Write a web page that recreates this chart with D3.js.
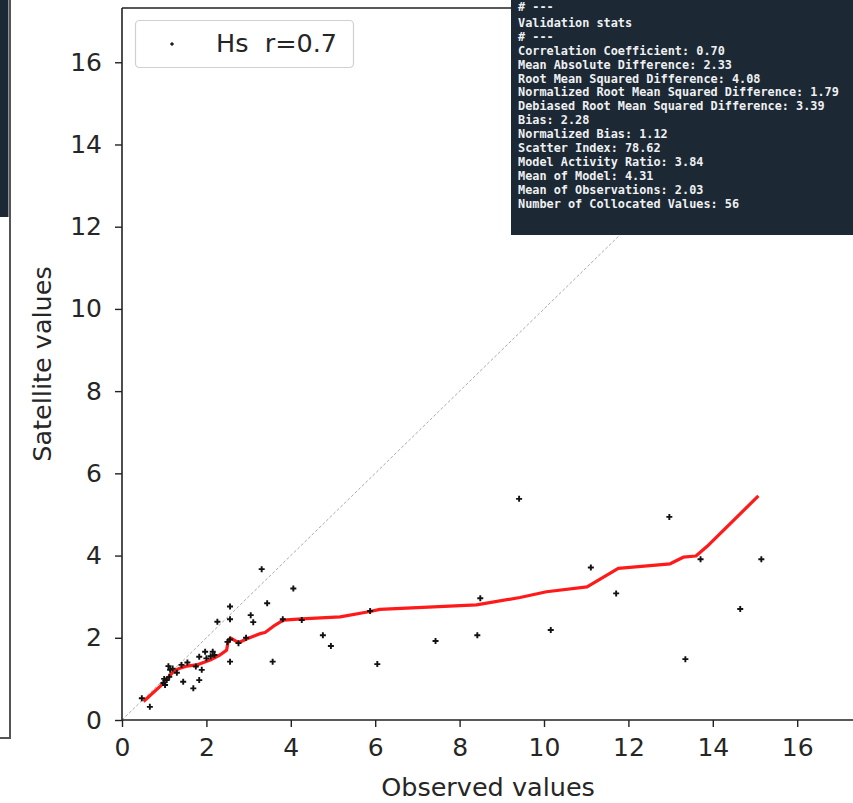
<!DOCTYPE html>
<html><head><meta charset="utf-8">
<script src="https://cdn.jsdelivr.net/npm/d3@7"></script>
<style>
html,body{margin:0;padding:0;background:#fff;}
svg{display:block;}
</style></head>
<body>
<svg id="c" width="853" height="803"></svg>
<script>
// ---- data ----
const obsValues = [0.47,0.66,1.10,1.14,1.06,1.02,1.12,0.98,1.20,1.30,1.41,1.45,1.55,1.69,1.75,1.83,1.89,1.83,1.97,2.00,2.10,2.15,2.19,2.26,2.50,2.56,2.56,2.56,2.56,2.76,2.94,3.05,3.11,3.31,3.44,3.57,3.81,4.06,4.26,4.76,4.95,5.88,6.05,7.43,8.42,8.49,9.41,10.16,11.11,11.71,12.97,13.35,13.71,14.65,15.15,1.00];
const satValues = [0.53,0.32,1.31,1.22,0.97,0.85,1.05,0.90,1.25,1.15,1.34,0.93,1.40,0.77,1.30,0.97,1.22,1.54,1.66,1.50,1.55,1.66,1.58,2.39,1.90,2.76,2.45,1.96,1.42,1.87,2.00,2.55,2.38,3.67,2.84,1.42,2.45,3.20,2.43,2.06,1.80,2.65,1.36,1.92,2.06,2.96,5.38,2.19,3.71,3.08,4.94,1.48,3.91,2.70,3.91,1.00];
const qqObs = [0.51,0.98,1.22,1.37,1.53,1.77,2.09,2.32,2.48,2.52,2.58,2.76,2.95,3.27,3.39,3.63,3.82,4.26,5.17,5.88,6.11,8.40,9.43,10.06,11.02,11.76,12.99,13.30,13.60,13.86,15.08];
const qqSat = [0.45,0.89,1.18,1.26,1.31,1.34,1.46,1.58,1.70,1.95,1.99,1.88,1.97,2.10,2.13,2.31,2.43,2.46,2.51,2.64,2.69,2.80,2.98,3.12,3.24,3.69,3.80,3.96,3.99,4.22,5.45];
const tickValues = [0,2,4,6,8,10,12,14,16];
const axisMax = 17.32;
const legendLabel = "Hs  r=0.7";
const xLabel = "Observed values";
const yLabel = "Satellite values";
const statsLines = [
 "# ---",
 "Validation stats",
 "# ---",
 "Correlation Coefficient: 0.70",
 "Mean Absolute Difference: 2.33",
 "Root Mean Squared Difference: 4.08",
 "Normalized Root Mean Squared Difference: 1.79",
 "Debiased Root Mean Squared Difference: 3.39",
 "Bias: 2.28",
 "Normalized Bias: 1.12",
 "Scatter Index: 78.62",
 "Model Activity Ratio: 3.84",
 "Mean of Model: 4.31",
 "Mean of Observations: 2.03",
 "Number of Collocated Values: 56"
];

// ---- drawing ----
(function(){
const svg = d3.select("#c");
const FONT = "'DejaVu Sans', sans-serif";
const padL = 122, padB = 720, padT = 8;
const x = d3.scaleLinear().domain([0, axisMax]).range([padL, padL + axisMax*42.2]);
const y = d3.scaleLinear().domain([0, axisMax]).range([padB, padT]);

// left decorations (other window panel)
svg.append("rect").attr("x",0).attr("y",0).attr("width",8.5).attr("height",217).attr("fill","#1c2834");
svg.append("path").attr("d","M10,0 V738 H0").attr("fill","none").attr("stroke","#555").attr("stroke-width",2);

// diagonal 1:1 line
svg.append("line")
  .attr("x1", x(0)).attr("y1", y(0)).attr("x2", x(axisMax)).attr("y2", y(axisMax))
  .attr("stroke","#aaa").attr("stroke-width",1).attr("stroke-dasharray","3,2");

// top spine
svg.append("line").attr("x1",padL).attr("x2",853).attr("y1",padT).attr("y2",padT).attr("stroke","#222").attr("stroke-width",1.6);

const xAxis = svg.append("g").attr("transform",`translate(0,${padB})`)
  .call(d3.axisBottom(x).tickValues(tickValues).tickSize(7).tickPadding(11).tickFormat(d3.format("d")));
const yAxis = svg.append("g").attr("transform",`translate(${padL},0)`)
  .call(d3.axisLeft(y).tickValues(tickValues).tickSize(7).tickPadding(13).tickFormat(d3.format("d")));
[xAxis,yAxis].forEach(g=>{
  g.select(".domain").attr("stroke","#222").attr("stroke-width",1.6);
  g.selectAll(".tick line").attr("stroke","#222").attr("stroke-width",1.4);
  g.selectAll(".tick text").attr("fill","#262626").style("font-family",FONT).style("font-size","25px");
});
xAxis.select(".domain").attr("d",`M${padL},0H853`);
yAxis.select(".domain").attr("d",`M0,${padB}V${padT}`);

// axis labels
svg.append("text").attr("x", 488).attr("y", 796).attr("text-anchor","middle")
  .style("font-family",FONT).style("font-size","25.5px").attr("fill","#262626").text(xLabel);
svg.append("text").attr("transform","translate(51,364) rotate(-90)").attr("text-anchor","middle")
  .style("font-family",FONT).style("font-size","25.5px").attr("fill","#262626").text(yLabel);

// qq line
const line = d3.line().x((d,i)=>x(qqObs[i])).y((d,i)=>y(qqSat[i]));
svg.append("path").datum(qqObs).attr("d",line).attr("fill","none")
  .attr("stroke","#ff1a1a").attr("stroke-width",3.2).attr("stroke-linejoin","round");

// scatter markers
const plus = s => `M${-s},0H${s}M0,${-s}V${s}`;
svg.append("g").selectAll("path").data(obsValues).join("path")
  .attr("transform",(d,i)=>`translate(${x(d)},${y(satValues[i])})`)
  .attr("d",plus(3)).attr("stroke","#111").attr("stroke-width",1.9);

// legend
svg.append("rect").attr("x",135.5).attr("y",20.5).attr("width",218).attr("height",47).attr("rx",4)
  .attr("fill","#fff").attr("stroke","#d0d0d0").attr("stroke-width",1.2);
svg.append("path").attr("transform","translate(172,44)").attr("d",plus(1.8)).attr("stroke","#111").attr("stroke-width",1.5);
svg.append("text").attr("x",216).attr("y",52).style("font-family",FONT).style("font-size","25.5px")
  .attr("fill","#262626").style("white-space","pre").text(legendLabel);

// stats box
svg.append("rect").attr("x",511).attr("y",0).attr("width",342).attr("height",235).attr("fill","#1c2834");
svg.append("g").selectAll("text").data(statsLines).join("text")
  .attr("x",518).attr("y",(d,i)=> i===0 ? 10.5 : 13 + i*13.9)
  .style("font-family","'DejaVu Sans Mono', monospace").style("font-size","11.85px").style("font-weight","bold")
  .attr("fill","#eef0f2").style("white-space","pre").text(d=>d);
})();
</script>
</body></html>
